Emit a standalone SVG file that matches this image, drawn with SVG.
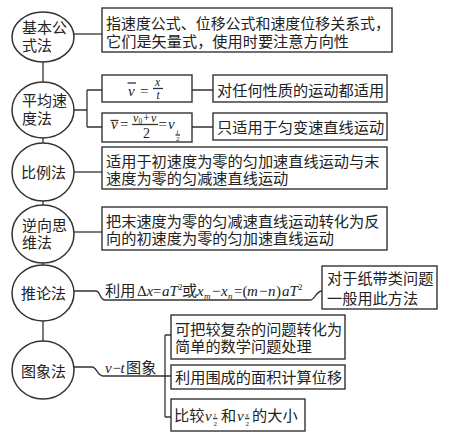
<svg xmlns="http://www.w3.org/2000/svg" width="450" height="440" viewBox="0 0 450 440">
<style>
.ln{stroke:#333;stroke-width:1.3;fill:none}
.box{fill:#fff;stroke:#333;stroke-width:1.4}
.ell{fill:#fff;stroke:#333;stroke-width:1.5}
.t{font-family:"Liberation Serif","Noto Sans CJK SC",serif;font-size:15.2px;fill:#222}
.e{font-family:"Liberation Serif","Noto Sans CJK SC",serif;font-size:15px;fill:#222}
.m{font-family:"Liberation Serif",serif;font-style:italic;fill:#222}
.r{font-family:"Liberation Serif",serif;fill:#222}
</style>
<rect width="450" height="440" fill="#fff"/>
<g id="connectors">
<path class="ln" d="M43,62 V341"/>
<path class="ln" d="M74,34 H102"/>
<path class="ln" d="M74,110 H87 M87,90 V127 M87,90 H102 M87,127 H102 M192,90 H213 M192,127 H213"/>
<path class="ln" d="M74,172 H102"/>
<path class="ln" d="M74,232 H102"/>
<path class="ln" d="M74,291 H96 C100,291 100,300 105,300 H310 C315,300 316,291 322,291"/>
<path class="ln" d="M74,367 H92 C97,367 97,376 103,376 H165 M165,335 V417 M165,335 H171 M165,376 H171 M165,417 H171"/>
</g>
<g id="n1">
<ellipse class="ell" cx="43" cy="37" rx="31" ry="25"/>
<text class="e" x="22" y="33">基本公</text>
<text class="e" x="22" y="50.5">式法</text>
</g>
<g id="n2">
<ellipse class="ell" cx="43" cy="110" rx="31" ry="28"/>
<text class="e" x="22" y="105.5">平均速</text>
<text class="e" x="22" y="123.5">度法</text>
</g>
<g id="n3">
<ellipse class="ell" cx="43" cy="172" rx="31" ry="29"/>
<text class="e" x="21" y="177.5">比例法</text>
</g>
<g id="n4">
<ellipse class="ell" cx="43" cy="234" rx="31" ry="29"/>
<text class="e" x="22" y="230.5">逆向思</text>
<text class="e" x="22" y="247.5">维法</text>
</g>
<g id="n5">
<ellipse class="ell" cx="43" cy="293" rx="31" ry="28"/>
<text class="e" x="21" y="298.5">推论法</text>
</g>
<g id="n6">
<ellipse class="ell" cx="43" cy="370" rx="31" ry="29"/>
<text class="e" x="21" y="376.5">图象法</text>
</g>
<g id="b1">
<rect class="box" x="102" y="8" width="290" height="44"/>
<text class="t" x="106" y="28.5" textLength="284" lengthAdjust="spacingAndGlyphs">指速度公式、位移公式和速度位移关系式，</text>
<text class="t" x="106" y="46.5">它们是矢量式，使用时要注意方向性</text>
</g>
<g id="b2a">
<rect class="box" x="102" y="75" width="90" height="27"/>
<text class="m" x="128" y="96" font-size="15">v</text>
<path class="ln" d="M127.5,83 H136"/>
<text class="r" x="140" y="96" font-size="15">=</text>
<text class="m" x="155" y="86" font-size="11.5">x</text>
<path class="ln" stroke-width="1" d="M153,88.5 H163"/>
<text class="m" x="156.5" y="98.5" font-size="11.5">t</text>
</g>
<g id="b2b">
<rect class="box" x="102" y="113" width="90" height="29"/>
<text class="m" x="111" y="128.5" font-size="15">v</text>
<path class="ln" d="M110.5,120.5 H118.5"/>
<text class="r" x="120" y="129" font-size="15">=</text>
<text class="m" x="133" y="121.5" font-size="12">v</text>
<text class="r" x="138.5" y="123.5" font-size="7.5">0</text>
<text class="r" x="143" y="121.5" font-size="12">+</text>
<text class="m" x="151" y="121.5" font-size="12">v</text>
<path class="ln" stroke-width="1" d="M132,124.5 H158"/>
<text class="r" x="143" y="137.5" font-size="14">2</text>
<text class="r" x="158.5" y="129" font-size="15">=</text>
<text class="m" x="168" y="128.5" font-size="15">v</text>
<text class="m" x="176.5" y="133.5" font-size="7">t</text>
<path class="ln" stroke-width="0.7" d="M175.5,135 H180"/>
<text class="r" x="176" y="141" font-size="7">2</text>
</g>
<g id="b3a">
<rect class="box" x="213" y="75" width="174" height="27"/>
<text class="t" x="217" y="95.5">对任何性质的运动都适用</text>
</g>
<g id="b3b">
<rect class="box" x="213" y="113" width="174" height="27"/>
<text class="t" x="217" y="132.5">只适用于匀变速直线运动</text>
</g>
<g id="b4">
<rect class="box" x="102" y="147" width="285" height="42"/>
<text class="t" x="106" y="166.5">适用于初速度为零的匀加速直线运动与末</text>
<text class="t" x="106" y="183.5">速度为零的匀减速直线运动</text>
</g>
<g id="b5">
<rect class="box" x="102" y="207" width="285" height="43"/>
<text class="t" x="106" y="226.5">把末速度为零的匀减速直线运动转化为反</text>
<text class="t" x="106" y="243.5">向的初速度为零的匀加速直线运动</text>
</g>
<g id="f5">
<text class="t" x="105" y="296">利用</text>
<text class="r" x="137" y="296" font-size="15">Δ</text>
<text class="m" x="146.5" y="296" font-size="15">x</text>
<text class="r" x="153" y="296" font-size="15">=</text>
<text class="m" x="162" y="296" font-size="15">aT</text>
<text class="r" x="178" y="290" font-size="9">2</text>
<text class="t" x="182" y="296">或</text>
<text class="m" x="197" y="296" font-size="15">x</text>
<text class="m" x="204" y="299" font-size="9">m</text>
<text class="r" x="212" y="296" font-size="15">−</text>
<text class="m" x="221" y="296" font-size="15">x</text>
<text class="m" x="228" y="299" font-size="9">n</text>
<text class="r" x="234" y="296" font-size="15">=(</text>
<text class="m" x="247" y="296" font-size="15">m</text>
<text class="r" x="259" y="296" font-size="15">−</text>
<text class="m" x="268" y="296" font-size="15">n</text>
<text class="r" x="276" y="296" font-size="15">)</text>
<text class="m" x="282" y="296" font-size="15">aT</text>
<text class="r" x="298" y="290" font-size="9">2</text>
</g>
<g id="b6">
<rect class="box" x="322" y="266" width="115" height="43"/>
<text class="t" x="327" y="283.5">对于纸带类问题</text>
<text class="t" x="327" y="303.5">一般用此方法</text>
</g>
<g id="f6">
<text class="m" x="105" y="372.5" font-size="15">v</text>
<text class="r" x="112.5" y="372.5" font-size="15">−</text>
<text class="m" x="120.5" y="372.5" font-size="15">t</text>
<text class="t" x="126" y="372.5">图象</text>
</g>
<g id="b7">
<rect class="box" x="171" y="315" width="174" height="44"/>
<text class="t" x="175" y="334.5">可把较复杂的问题转化为</text>
<text class="t" x="175" y="351.5">简单的数学问题处理</text>
</g>
<g id="b8">
<rect class="box" x="171" y="365" width="174" height="24"/>
<text class="t" x="175" y="382.5">利用围成的面积计算位移</text>
</g>
<g id="b9">
<rect class="box" x="171" y="399" width="134" height="32"/>
<text class="t" x="174" y="420.5">比较</text>
<text class="m" x="205" y="420.5" font-size="15">v</text>
<text class="m" x="214" y="416.5" font-size="7">t</text>
<path class="ln" stroke-width="0.7" d="M213,418.5 H217.5"/>
<text class="r" x="213.5" y="425.5" font-size="7">2</text>
<text class="t" x="221" y="420.5">和</text>
<text class="m" x="237" y="420.5" font-size="15">v</text>
<text class="m" x="245.5" y="416.5" font-size="7">x</text>
<path class="ln" stroke-width="0.7" d="M245,418.5 H249.5"/>
<text class="r" x="245.5" y="425.5" font-size="7">2</text>
<text class="t" x="252" y="420.5">的大小</text>
</g>
</svg>
